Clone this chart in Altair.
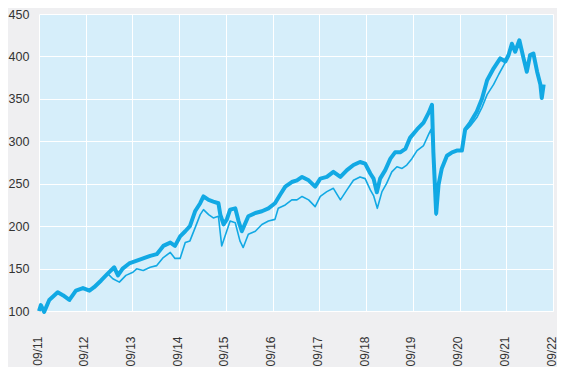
import altair as alt
import pandas as pd

# time in years since 09/2011, index values
a_t = [0.00, 0.04, 0.11, 0.22, 0.40, 0.51, 0.65, 0.79, 0.94, 1.08, 1.18, 1.33, 1.47, 1.61, 1.69, 1.79,
       1.93, 2.08, 2.23, 2.38, 2.52, 2.66, 2.81, 2.91, 3.02, 3.13, 3.23, 3.34, 3.45, 3.52, 3.63, 3.73,
       3.84, 3.88, 3.95, 4.02, 4.09, 4.20, 4.27, 4.34, 4.48, 4.63, 4.77, 4.91, 5.05, 5.16, 5.27, 5.41,
       5.52, 5.63, 5.77, 5.91, 6.02, 6.16, 6.30, 6.45, 6.59, 6.73, 6.87, 6.98, 7.09, 7.16, 7.23, 7.30,
       7.41, 7.52, 7.62, 7.73, 7.84, 7.94, 8.09, 8.23, 8.34, 8.41, 8.44, 8.50, 8.55, 8.62, 8.73, 8.84,
       8.94, 9.05, 9.12, 9.23, 9.37, 9.48, 9.59, 9.73, 9.87, 9.98, 10.05, 10.12, 10.19, 10.28, 10.37,
       10.44, 10.51, 10.58, 10.66, 10.73, 10.76, 10.80]
a_v = [100, 107, 99, 113, 122, 118.6, 113, 124, 127, 124, 128, 136, 144, 151.5, 142, 150,
       156, 159, 162, 165, 167, 176.7, 180.6, 176.7, 188, 194, 200, 217.5, 227, 235, 231, 229,
       227, 213.6, 202, 208, 219.5, 221, 206, 194, 211.6, 215.5, 217.5, 221, 227, 237, 246.5, 252,
       254, 258, 254, 246.5, 256, 258, 264, 258, 266, 272, 275.6, 273.6, 262, 256, 240, 256,
       266, 279.5, 287, 287, 291, 304, 314, 322, 333.7, 343, 287, 215, 248.5, 268, 283, 287,
       289, 289, 314, 322, 335, 350, 372, 386, 397.7, 394, 401.7, 415, 405.5, 419, 397.7,
       382, 401.7, 403.5, 382, 367, 351, 367]

b_t = [0.00, 0.04, 0.11, 0.22, 0.40, 0.51, 0.65, 0.79, 0.94, 1.08, 1.18, 1.33, 1.47, 1.58, 1.72, 1.86,
       2.01, 2.09, 2.23, 2.38, 2.52, 2.66, 2.81, 2.91, 3.02, 3.13, 3.23, 3.34, 3.45, 3.52, 3.63, 3.73,
       3.84, 3.91, 3.98, 4.09, 4.20, 4.30, 4.37, 4.48, 4.63, 4.77, 4.91, 5.05, 5.12, 5.27, 5.41, 5.52,
       5.63, 5.77, 5.91, 6.02, 6.16, 6.30, 6.45, 6.59, 6.73, 6.87, 6.98, 7.09, 7.16, 7.24, 7.34, 7.44,
       7.55, 7.66, 7.77, 7.87, 7.98, 8.09, 8.23, 8.34, 8.39, 8.44, 8.50, 8.55, 8.62, 8.73, 8.84, 8.94,
       9.05, 9.12, 9.23, 9.37, 9.48, 9.59, 9.73, 9.84, 9.95, 10.05, 10.12, 10.19, 10.28, 10.37, 10.44,
       10.51, 10.58, 10.66, 10.73, 10.76, 10.80]
b_v = [100, 107, 99, 113, 122, 118.6, 113, 124, 127, 124, 128, 136, 144, 138, 134, 142,
       145.7, 149.7, 147.7, 151.5, 153.5, 163, 169, 162, 162, 180.6, 182.6, 198, 213.6, 219.4, 213.6, 209.7,
       211.6, 176.7, 188, 206, 204, 182.6, 174.8, 190.4, 194, 202, 206, 208, 221, 225, 231, 231,
       235, 231, 223, 235, 240.7, 244.6, 231, 242.7, 254, 258, 256, 242.7, 236, 221, 240.7, 250.4,
       264, 270, 268, 272, 279.5, 289, 295, 308.5, 314, 287, 213, 248.5, 268, 283, 287, 289,
       289, 312, 318, 328, 340, 355, 367, 379, 390, 401, 413, 405, 417, 397, 382,
       401, 403, 382, 367, 351, 366]

year_ticks = list(range(0, 12))
y_ticks = [100, 150, 200, 250, 300, 350, 400, 450]

LINE = "#12a9e4"

df_a = pd.DataFrame({"t": a_t, "v": a_v})
df_b = pd.DataFrame({"t": b_t, "v": b_v})

x_enc = alt.X("t:Q", scale=alt.Scale(domain=[0, 11], nice=False, zero=False),
              axis=alt.Axis(values=year_ticks, title=None,
                            labelExpr="'09/' + (datum.value + 11)",
                            labelAngle=270, labelAlign="right", labelBaseline="middle",
                            labelPadding=25, labelOffset=-2, ticks=False, domain=False,
                            labelFontSize=12, labelColor="#333333", labelFont="Liberation Sans",
                            grid=True, gridColor="white", gridWidth=1))
y_enc = alt.Y("v:Q", scale=alt.Scale(domain=[100, 450], nice=False, zero=False),
              axis=alt.Axis(values=y_ticks, title=None, ticks=False, domain=False,
                            labelAlign="left", labelPadding=31, labelFontSize=12.5,
                            labelColor="#333333", labelFont="Liberation Sans",
                            grid=True, gridColor="white", gridWidth=1))

thick = alt.Chart(df_a).mark_line(color=LINE, strokeWidth=4, strokeJoin="round").encode(
    x=x_enc, y=y_enc, order="t:Q")
thin = alt.Chart(df_b).mark_line(color=LINE, strokeWidth=1.6, strokeJoin="round").encode(
    x="t:Q", y="v:Q", order="t:Q")

chart = alt.layer(thick, thin).properties(
    width=514, height=297,
    background="#efeff1",
    padding={"left": 0, "top": 0, "right": 0, "bottom": 0},
).configure_view(fill="#d6eefa", stroke=None)

chart.save("out.html", embed_options={"renderer": "svg", "actions": False})
